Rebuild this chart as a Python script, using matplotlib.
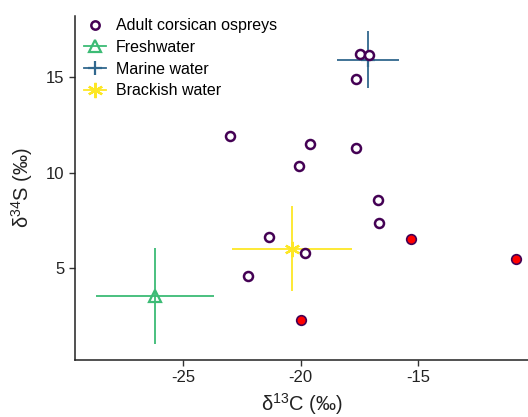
import matplotlib
matplotlib.use("Agg")
import matplotlib.pyplot as plt
from matplotlib.lines import Line2D

plt.rcParams['font.family'] = ['Liberation Sans', 'DejaVu Sans']
plt.rcParams['mathtext.fontset'] = 'custom'
plt.rcParams['mathtext.rm'] = 'Liberation Sans'
plt.rcParams['mathtext.it'] = 'Liberation Sans'

# Data
osprey_x = [-17.47, -17.10, -17.63, -22.99, -19.59, -17.65, -20.08, -16.73, -16.69, -21.35, -19.80, -22.23]
osprey_y = [16.18, 16.15, 14.90, 11.89, 11.47, 11.26, 10.35, 8.58, 7.36, 6.62, 5.78, 4.60]
red_x = [-15.31, -10.87, -20.00]
red_y = [6.55, 5.47, 2.26]

src_names = ["Freshwater", "Marine water", "Brackish water"]
src_x = [-26.17, -17.13, -20.36]
src_y = [3.55, 15.90, 6.01]
src_xerr = [2.5, 1.31, 2.56]
src_yerr = [2.5, 1.50, 2.23]
src_colors = ["#3CBB75", "#31688E", "#FDE725"]

xticks = [-25, -20, -15]
yticks = [5, 10, 15]

fig = plt.figure(figsize=(5.28, 4.17), dpi=100)
ax = fig.add_axes([0.142, 0.137, 0.858, 0.825])

for i in range(3):
    ax.errorbar(src_x[i], src_y[i], xerr=src_xerr[i], yerr=src_yerr[i],
                color=src_colors[i], elinewidth=1.3, capsize=0, fmt='none', zorder=2)
mk_style = [dict(marker='^', ms=8, mfc='none', mew=1.6),
            dict(marker='+', ms=10, mew=1.6),
            dict(marker=(6, 2, 0), ms=11, mew=1.6)]
for i in range(3):
    ax.plot(src_x[i], src_y[i], linestyle='none', color=src_colors[i], zorder=3, **mk_style[i])

ax.scatter(osprey_x, osprey_y, s=42, facecolors='white', edgecolors='#440154', linewidths=1.8, zorder=4)
ax.scatter(red_x, red_y, s=48, facecolors='#FF0000', edgecolors='#440154', linewidths=1.2, zorder=4)

ax.set_xlim(-29.58, -10.35)
ax.set_ylim(0.2, 18.2)
ax.set_xticks(xticks)
ax.set_yticks(yticks)
ax.set_xticklabels([str(t) for t in xticks])
ax.set_yticklabels([str(t) for t in yticks])
ax.tick_params(direction='out', length=4, width=1, labelsize=12, colors='#333333', labelcolor='#222222')
for s in ['top', 'right']:
    ax.spines[s].set_visible(False)
for s in ['left', 'bottom']:
    ax.spines[s].set_linewidth(1.1)
    ax.spines[s].set_color('#222222')

ax.set_xlabel('δ$^{13}$C (‰)', fontsize=14.5, color='#222222', labelpad=4)
ax.set_ylabel('δ$^{34}$S (‰)', fontsize=14.5, color='#222222', labelpad=8)

handles = [Line2D([], [], linestyle='none', marker='o', ms=6, mfc='white', mec='#440154', mew=1.8)]
for i in range(3):
    handles.append(Line2D([0], [0], color=src_colors[i], lw=1.3, **mk_style[i]))
labels = ["Adult corsican ospreys"] + src_names
ax.legend(handles, labels, loc='upper left', bbox_to_anchor=(-0.012, 1.035), frameon=False,
          fontsize=11.5, handlelength=1.4, handletextpad=0.6, labelspacing=0.42)

fig.savefig("out.png", dpi=100)
